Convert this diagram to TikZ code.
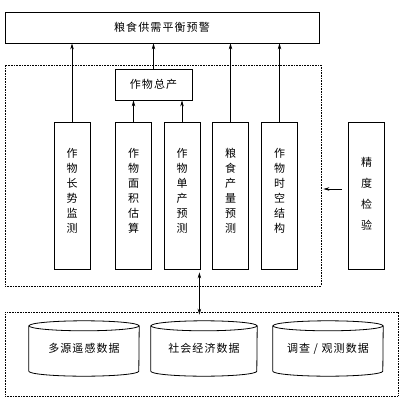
\documentclass[tikz,border=0pt]{standalone}
\usepackage{fontspec}
\newfontfamily\cjk[LetterSpace=10]{Noto Sans CJK SC}
\newfontfamily\cjkv{Noto Sans CJK SC}
\usetikzlibrary{arrows.meta}
\begin{document}
\begin{tikzpicture}[x=1pt,y=-1pt,
  font=\cjk\fontsize{11}{15}\selectfont,
  box/.style={draw, line width=0.8pt, inner sep=0pt},
  vbox/.style={box, minimum width=36pt, minimum height=147pt},
  vtext/.style={font=\cjkv\fontsize{11}{15}\selectfont, align=center, inner sep=0pt},
  dotbox/.style={draw, dash pattern=on 0.8pt off 0.8pt, line width=0.7pt, inner sep=0pt},
  arr/.style={-{Stealth[length=6pt,width=3.5pt]}, line width=0.7pt},
  darr/.style={{Stealth[length=6pt,width=3.5pt]}-{Stealth[length=6pt,width=3.5pt]}, line width=0.7pt},
  cyl/.style={inner sep=0pt, minimum width=#1, minimum height=55pt}]
\useasboundingbox (0,0) rectangle (400,406);

% top box
\node[box, minimum width=314pt, minimum height=31pt] (top) at (162,27.5) {粮食供需平衡预警};

% middle dotted frame
\node[dotbox, minimum width=316pt, minimum height=221pt] (mid) at (163,175.5) {};

% total production
\node[box, minimum width=77pt, minimum height=31pt] (tot) at (153.5,84.5) {作物总产};

% vertical boxes
\node[vbox] (b1) at (72,195.5) {};
\node[vbox] (b2) at (133.5,195.5) {};
\node[vbox] (b3) at (182,195.5) {};
\node[vbox] (b4) at (230.5,195.5) {};
\node[vbox] (b5) at (279.5,195.5) {};
\node[vbox] (jd) at (366.5,195.5) {};

\node[vtext] (t1) at (72,190.5) {作\\物\\长\\势\\监\\测};
\node[vtext] (t2) at (133.5,190.5) {作\\物\\面\\积\\估\\算};
\node[vtext] (t3) at (182,190.5) {作\\物\\单\\产\\预\\测};
\node[vtext] (t4) at (230.5,190.5) {粮\\食\\产\\量\\预\\测};
\node[vtext] (t5) at (279.5,190.5) {作\\物\\时\\空\\结\\构};
\node[vtext, font=\cjkv\fontsize{11}{21}\selectfont] (tj) at (366.5,194) {精\\度\\检\\验};

% arrows up
\draw[arr] (b1.north) -- (b1.north |- top.south);
\draw[arr] (tot.north) -- (tot.north |- top.south);
\draw[arr] (b4.north) -- (b4.north |- top.south);
\draw[arr] (b5.north) -- (b5.north |- top.south);
\draw[arr] (b2.north) -- (b2.north |- tot.south);
\draw[arr] (b3.north) -- (b3.north |- tot.south);

% accuracy check arrow
\draw[arr, shorten <=6pt, shorten >=2pt] ([yshift=6.5pt]jd.west) -- ([yshift=6.5pt]jd.west -| mid.east);

% bottom dotted frame
\node[dotbox, minimum width=393pt, minimum height=84pt] (bot) at (201.5,354) {};

% double arrow
\draw[darr, shorten <=3pt, shorten >=-3pt] ([xshift=-1pt]b3.south east) -- ([xshift=-1pt]b3.south east |- bot.north);

% cylinders
\node[cyl=110pt] (c1) at (84,348.5) {\raisebox{-2.5pt}{多源遥感数据}};
\node[cyl=106pt] (c2) at (204,348.5) {\raisebox{-2.5pt}{社会经济数据}};
\node[cyl=110pt] (c3) at (328,348.5) {\raisebox{-2.5pt}{调查 / 观测数据}};
\foreach \c/\r in {c1/55pt, c2/53pt, c3/55pt}{
  \draw[line width=0.8pt] ([yshift=-5pt]\c.north) ellipse [x radius=\r, y radius=5pt];
  \draw[line width=0.8pt] ([yshift=-5pt]\c.north west) -- ([yshift=5pt]\c.south west)
     arc[start angle=180, end angle=360, x radius=\r, y radius=5pt] -- ([yshift=-5pt]\c.north east);
}
\end{tikzpicture}
\end{document}
